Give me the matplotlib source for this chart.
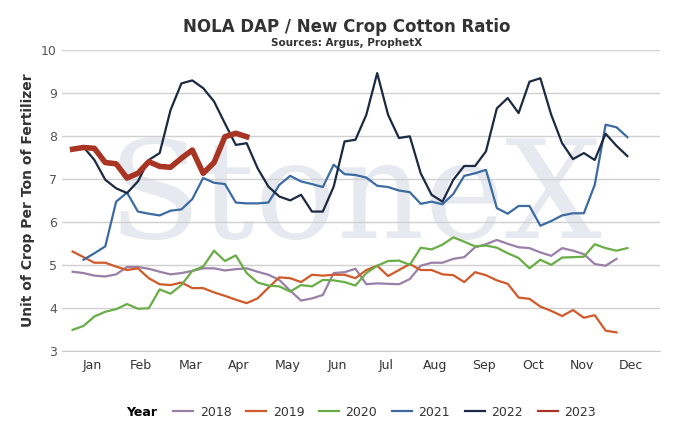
import numpy as np
import matplotlib
matplotlib.use("Agg")
import matplotlib.pyplot as plt
from matplotlib.offsetbox import HPacker

months = ["Jan", "Feb", "Mar", "Apr", "May", "Jun", "Jul", "Aug", "Sep", "Oct", "Nov", "Dec"]

y2018 = [4.84, 4.81, 4.75, 4.73, 4.78, 4.95, 4.95, 4.91, 4.84, 4.78, 4.81, 4.86, 4.92, 4.92, 4.87,
         4.90, 4.92, 4.84, 4.77, 4.65, 4.40, 4.17, 4.22, 4.30, 4.81, 4.83, 4.91, 4.55, 4.57,
         4.56, 4.55, 4.67, 4.98, 5.05, 5.05, 5.14, 5.18, 5.41, 5.48, 5.58, 5.49, 5.41, 5.39,
         5.29, 5.21, 5.39, 5.33, 5.25, 5.02, 4.98, 5.14]
y2019 = [5.31, 5.18, 5.05, 5.05, 4.96, 4.88, 4.92, 4.69, 4.55, 4.53, 4.59, 4.46, 4.46, 4.36, 4.28,
         4.19, 4.11, 4.22, 4.47, 4.71, 4.69, 4.60, 4.77, 4.75, 4.77, 4.77, 4.69, 4.88, 4.98,
         4.74, 4.88, 5.02, 4.88, 4.88, 4.78, 4.76, 4.60, 4.83, 4.76, 4.64, 4.56, 4.24, 4.21,
         4.03, 3.93, 3.81, 3.95, 3.77, 3.83, 3.47, 3.43]
y2020 = [3.49, 3.58, 3.80, 3.91, 3.97, 4.09, 3.98, 3.99, 4.43, 4.33, 4.53, 4.86, 4.96, 5.33, 5.09,
         5.22, 4.81, 4.59, 4.52, 4.50, 4.38, 4.53, 4.50, 4.65, 4.64, 4.60, 4.52, 4.81, 4.98,
         5.09, 5.10, 5.00, 5.40, 5.36, 5.47, 5.64, 5.54, 5.43, 5.45, 5.40, 5.27, 5.16, 4.92,
         5.12, 5.00, 5.17, 5.18, 5.19, 5.48, 5.39, 5.33, 5.39]
y2021 = [np.nan, 5.12, 5.27, 5.43, 6.47, 6.68, 6.24, 6.19, 6.15, 6.26, 6.29, 6.53, 7.02, 6.91, 6.88,
         6.45, 6.43, 6.43, 6.45, 6.86, 7.07, 6.94, 6.88, 6.81, 7.33, 7.11, 7.09, 7.03, 6.84,
         6.81, 6.73, 6.69, 6.42, 6.47, 6.41, 6.65, 7.07, 7.13, 7.21, 6.32, 6.19, 6.37, 6.37,
         5.91, 6.02, 6.15, 6.20, 6.20, 6.86, 8.26, 8.20, 7.97]
y2022 = [7.71, 7.74, 7.44, 6.98, 6.78, 6.67, 6.94, 7.44, 7.60, 8.60, 9.22, 9.29, 9.11, 8.80, 8.29,
         7.79, 7.83, 7.25, 6.82, 6.59, 6.50, 6.63, 6.24, 6.24, 6.82, 7.87, 7.91, 8.49, 9.46,
         8.49, 7.95, 7.99, 7.13, 6.63, 6.47, 6.98, 7.30, 7.30, 7.64, 8.64, 8.88, 8.53, 9.26,
         9.34, 8.49, 7.83, 7.46, 7.60, 7.44, 8.05, 7.77, 7.53]
y2023 = [7.69, 7.73, 7.71, 7.38, 7.35, 7.02, 7.13, 7.40, 7.29, 7.27, 7.48, 7.67, 7.13, 7.38, 7.98,
         8.06, 7.98]

series = [
    ("2018", y2018, "#9a80a8", 1.6),
    ("2019", y2019, "#d05a2a", 1.6),
    ("2020", y2020, "#68ad45", 1.6),
    ("2021", y2021, "#3c6ba1", 1.6),
    ("2022", y2022, "#1b2a42", 1.6),
    ("2023", y2023, "#a83424", 4.0),
]

fig = plt.figure(figsize=(6.94, 4.30), dpi=100)
ax = fig.add_axes([0.089, 0.184, 0.862, 0.70])

# faint watermark
ax.text(26, 6.5, "StoneX", fontsize=98, family="serif", color="#e6e9ef",
        ha="center", va="center", zorder=0)

for name, vals, color, lw in series:
    ax.plot(np.arange(len(vals)), vals, color=color, lw=lw, label=name, zorder=2)

ax.set_xlim(-1, 54)
ax.set_ylim(3, 10)
ax.set_yticks(range(3, 11))
ax.set_xticks([1.8 + 4.5 * i for i in range(12)])
ax.set_xticklabels(months, fontsize=9, color="#333333")
ax.tick_params(axis="y", labelsize=9, colors="#555555", length=0)
ax.tick_params(axis="x", length=0, pad=6)
ax.grid(axis="y", color="#d0d0d0", lw=1)
for s in ["top", "right", "left"]:
    ax.spines[s].set_visible(False)
ax.spines["bottom"].set_color("#cccccc")

ax.set_ylabel("Unit of Crop Per Ton of Fertilizer", fontsize=10, fontweight="bold", color="#333333")
fig.text(0.5, 0.925, "NOLA DAP / New Crop Cotton Ratio", ha="center", fontsize=12,
         fontweight="bold", color="#333333")
fig.text(0.5, 0.893, "Sources: Argus, ProphetX", ha="center", fontsize=7.5,
         fontweight="bold", color="#333333")

leg = fig.legend(loc="lower center", bbox_to_anchor=(0.52, 0.0), ncol=6, frameon=False,
                 fontsize=9, title="Year", handlelength=1.6, columnspacing=1.2,
                 handletextpad=0.5)
leg.get_title().set_fontweight("bold")
leg.get_title().set_fontsize(9)
# title on the same row as the entries
leg._legend_box._children = [HPacker(children=[leg._legend_title_box, leg._legend_handle_box],
                                     align="center", pad=0, sep=12)]
for t in leg.get_texts():
    t.set_color("#333333")
for h in leg.get_lines():
    h.set_linewidth(1.6)

fig.savefig("out.png")
